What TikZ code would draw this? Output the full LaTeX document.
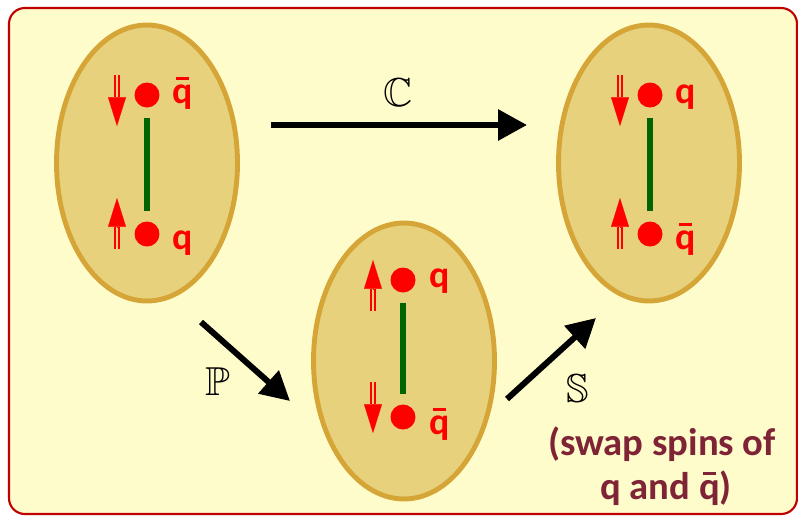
\documentclass[tikz,border=0pt]{standalone}
\usepackage{amsmath,amssymb}
\usepackage{fontspec}
\setmainfont{Carlito}
\usetikzlibrary{shapes.geometric, arrows.meta}
\definecolor{boxfill}{HTML}{FFFCCB}
\definecolor{boxline}{HTML}{C00000}
\definecolor{mesonfill}{HTML}{E8D17C}
\definecolor{mesonline}{HTML}{D5A637}
\definecolor{bondgreen}{HTML}{006400}
\definecolor{captionred}{HTML}{7F2436}
\tikzstyle{meson} = [ellipse, minimum width=3.62cm, minimum height=5.52cm, draw=mesonline, fill=mesonfill, line width=2.8pt]
\tikzstyle{quark} = [circle, fill=red, minimum size=0.5cm, inner sep=0pt]
\tikzstyle{bond} = [draw=bondgreen, line width=3.4pt, shorten <=5.5pt, shorten >=5.5pt]
\tikzstyle{flavour} = [text=red, font=\fontsize{21.5}{26}\selectfont\bfseries, anchor=base west, inner sep=0pt]
\tikzstyle{spinline} = [draw=red, line width=1.1pt, double=mesonfill, double distance=1.6pt]
\tikzstyle{spinhead} = [draw=red, line width=0.1pt, -{Triangle[length=16.4pt, width=10.2pt]}]
\tikzstyle{arrow} = [line width=3.4pt, -{Triangle[length=16.4pt, width=17pt]}]
\tikzstyle{operator} = [font=\fontsize{23}{28}\selectfont, inner sep=0pt]
\tikzstyle{caption} = [text=captionred, font=\fontsize{22}{26}\selectfont\bfseries, anchor=base, inner sep=0pt]
\newcommand{\qbar}{\makebox[0pt][l]{\hspace{0.1em}\rule[0.62em]{0.34em}{0.08em}}q}
\newcommand{\spinarrow}[3]{\draw[spinline] (#1) -- (#2); \draw[spinhead] (#2) -- (#3);}

\begin{document}
\begin{tikzpicture}[x=0.02cm, y=-0.02cm]

        \useasboundingbox (0,0) rectangle (798,515);
        \draw[draw=boxline, fill=boxfill, line width=1.2pt, rounded corners=9pt] (9,8) rectangle (797,514);

        % Mesons
        \node (mesonLeft) [meson] at (147,163) {};
        \node (mesonMid) [meson] at (404,361) {};
        \node (mesonRight) [meson] at (649,163) {};

        % Quarks
        \node (antiquarkA) [quark] at (147,95) {};
        \node (quarkA) [quark] at (147,234) {};
        \node (quarkB) [quark] at (403,280) {};
        \node (antiquarkB) [quark] at (403,417) {};
        \node (quarkC) [quark] at (650,95) {};
        \node (antiquarkC) [quark] at (650,234) {};

        \draw [bond] (antiquarkA) -- (quarkA);
        \draw [bond] (quarkB) -- (antiquarkB);
        \draw [bond] (quarkC) -- (antiquarkC);

        \node (labelAntiquarkA) [flavour] at ([shift={(25,8)}]antiquarkA.center) {\qbar};
        \node (labelQuarkA) [flavour] at ([shift={(25,15)}]quarkA.center) {q};
        \node (labelQuarkB) [flavour] at ([shift={(26,7)}]quarkB.center) {q};
        \node (labelAntiquarkB) [flavour] at ([shift={(26,17)}]antiquarkB.center) {\qbar};
        \node (labelQuarkC) [flavour] at ([shift={(25,8)}]quarkC.center) {q};
        \node (labelAntiquarkC) [flavour] at ([shift={(25,15)}]antiquarkC.center) {\qbar};

        % Spins
        \begin{scope}[shift={(antiquarkA)}]
          \spinarrow{-30,-20}{-30,2}{-30,31}
        \end{scope}
        \begin{scope}[shift={(quarkA)}]
          \spinarrow{-30,15}{-30,-7}{-30,-36}
        \end{scope}
        \begin{scope}[shift={(quarkB)}]
          \spinarrow{-30,31}{-30,9}{-30,-20}
        \end{scope}
        \begin{scope}[shift={(antiquarkB)}]
          \spinarrow{-30,-35}{-30,-13}{-30,16}
        \end{scope}
        \begin{scope}[shift={(quarkC)}]
          \spinarrow{-30,-20}{-30,2}{-30,31}
        \end{scope}
        \begin{scope}[shift={(antiquarkC)}]
          \spinarrow{-30,15}{-30,-7}{-30,-36}
        \end{scope}

        % Transformations
        \coordinate (cStart) at (271,125);
        \coordinate (cEnd) at (527,125);
        \coordinate (pStart) at (201,322);
        \coordinate (pEnd) at (290,401);
        \coordinate (sStart) at (507,399);
        \coordinate (sEnd) at (596,318);
        \draw [arrow] (cStart) -- (cEnd);
        \draw [arrow] (pStart) -- (pEnd);
        \draw [arrow] (sStart) -- (sEnd);
        \node (opC) [operator] at (398,93) {$\mathbb{C}$};
        \node (opP) [operator] at (218,382) {$\mathbb{P}$};
        \node (opS) [operator] at (578,389) {$\mathbb{S}$};

        \node (captionTop) [caption] at (662,455) {(swap spins of};
        \node (captionBottom) [caption] at (666,499) {q and \qbar)};

\end{tikzpicture}
\end{document}
